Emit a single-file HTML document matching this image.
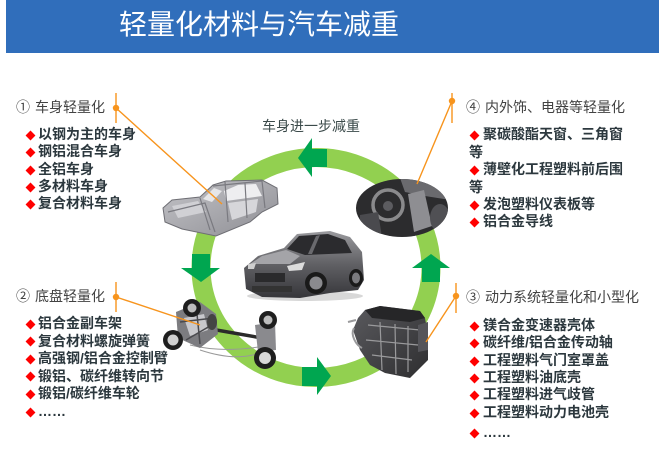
<!DOCTYPE html>
<html><head><meta charset="utf-8"><style>
body{margin:0;width:659px;height:449px;overflow:hidden;background:#fff;position:relative;font-family:"Liberation Sans","Noto Sans CJK SC",sans-serif;}
.a{position:absolute;white-space:nowrap;}
.h{font-size:14px;line-height:18px;color:#424242;}
.b{font-size:14px;line-height:18px;color:#2c383e;font-weight:bold;}
.d{position:absolute;width:7px;height:7px;background:#f00;transform:rotate(45deg);}
svg{position:absolute;left:0;top:0;}
</style></head><body>
<div style="position:absolute;left:6px;top:0;width:653px;height:53px;background:#306ebb"></div>
<div class="a" style="left:119px;top:9px;font-size:28px;line-height:32px;color:#fff">轻量化材料与汽车减重</div>

<svg width="659" height="449" viewBox="0 0 659 449">
<defs>
<linearGradient id="cg" x1="0" y1="0" x2="0" y2="1"><stop offset="0" stop-color="#9a9a9e"/><stop offset="0.5" stop-color="#606064"/><stop offset="1" stop-color="#36363a"/></linearGradient>
<linearGradient id="bg" x1="0" y1="0" x2="1" y2="1"><stop offset="0" stop-color="#c4c4c8"/><stop offset="1" stop-color="#8e8e94"/></linearGradient>
<linearGradient id="eg" x1="0" y1="0" x2="1" y2="1"><stop offset="0" stop-color="#5a5a5e"/><stop offset="1" stop-color="#2e2e30"/></linearGradient>
<clipPath id="ie"><ellipse cx="402" cy="208" rx="46" ry="29"/></clipPath>
</defs>
<!-- ring -->
<ellipse cx="316" cy="267.5" rx="115" ry="110" stroke="#92d050" stroke-width="19" fill="none"/>
<!-- arrows -->
<path d="M327,149 L312,149 L312,138 L298,158 L312,177 L312,167 L327,167 Z" fill="#00a650"/>
<path d="M192,254 L210,254 L210,268 L220,268 L201,282 L181,268 L192,268 Z" fill="#00a650"/>
<path d="M302,367 L317,367 L317,357 L331,376 L317,395 L317,386 L302,386 Z" fill="#00a650"/>
<path d="M422,282 L422,268 L412,268 L431,254 L450,268 L440,268 L440,282 Z" fill="#00a650"/>

<!-- car body frame -->
<g>
<polygon points="163,208 172,200 200,197 213,185 226,181 262,180 277,188 278,204 262,212 250,222 216,236 182,229 165,222" fill="url(#bg)" stroke="#6e6e74" stroke-width="1"/>
<polygon points="203,199 214,188 222,191 212,202" fill="#e6e6e8"/>
<polygon points="224,191 238,185 256,184 262,196 226,201" fill="#eeeef0"/>
<polygon points="228,203 258,199 256,212 232,220" fill="#d6d6da"/>
<polygon points="172,206 198,201 206,212 178,218" fill="#d0d0d4"/>
<path d="M168,212 L205,203 L215,232 M200,198 L210,230 M225,182 L228,222 M245,183 L247,218 M262,181 L265,208 M213,186 L262,181" stroke="#7a7a80" stroke-width="1.2" fill="none"/>
</g>

<!-- interior -->
<g>
<ellipse cx="402" cy="208" rx="46" ry="29" fill="#2c2c2e"/>
<g clip-path="url(#ie)">
<polygon points="400,178 450,178 450,200 425,196 405,192" fill="#6a6a6e"/>
<polygon points="408,194 424,190 432,226 414,232" fill="#8e8e92"/>
<ellipse cx="440" cy="218" rx="10" ry="14" fill="#505054"/>
<circle cx="388" cy="205" r="15" stroke="#8a8a8c" stroke-width="3.5" fill="none"/>
<circle cx="388" cy="206" r="5" fill="#5c5c60"/>
<polygon points="360,215 378,212 382,237 360,237" fill="#4a4a4e"/>
</g>
</g>

<!-- center car -->
<g>
<ellipse cx="305" cy="296" rx="58" ry="5" fill="#d8d8d8"/>
<polygon points="244,268 258,256 284,248 297,234 330,231 350,237 362,252 364,280 358,290 330,293 300,298 262,297 246,289" fill="url(#cg)"/>
<polygon points="287,249 299,236 328,234 345,240 352,253 305,255" fill="#2b2b2e"/>
<polygon points="316,236 320,235 312,254 308,254" fill="#6a6a6e"/>
<polygon points="250,264 262,256 286,250 300,256 290,264" fill="#a4a4a8"/>
<rect x="255" y="273" width="30" height="9" fill="#2a2a2c"/>
<polygon points="287,266 305,262 302,270 289,271" fill="#dcdcdc"/>
<polygon points="248,264 256,263 254,269 248,269" fill="#cfcfcf"/>
<rect x="252" y="286" width="40" height="6" fill="#333"/>
<circle cx="316" cy="283" r="11" fill="#1a1a1a"/>
<circle cx="316" cy="283" r="6.5" fill="#8a8a8e"/>
<ellipse cx="356" cy="278" rx="7" ry="9" fill="#1a1a1a"/>
<ellipse cx="356" cy="278" rx="4" ry="5.5" fill="#7a7a7e"/>
</g>

<!-- chassis -->
<g>
<path d="M205,328 L262,338" stroke="#2a2a2a" stroke-width="3.5"/>
<path d="M268,320 L265,358" stroke="#555" stroke-width="5"/>
<path d="M190,345 C210,350 235,352 270,345 M200,350 C230,360 250,358 268,350" stroke="#999" stroke-width="1" fill="none"/>
<polygon points="176,312 200,302 216,314 218,334 200,348 178,338" fill="#7c7c80"/>
<polygon points="184,318 204,314 208,330 190,336" fill="#c8c8cc"/>
<path d="M180,322 L214,318 M186,340 L210,326 M196,304 L200,344" stroke="#4a4a4e" stroke-width="1.5"/>
<ellipse cx="212" cy="322" rx="5" ry="8" fill="#444"/>
<polygon points="255,325 275,322 276,350 258,352" fill="#8a8a8e"/>
<circle cx="173" cy="340" r="10" fill="#1e1e1e"/><circle cx="173" cy="340" r="5.5" fill="#d0d0d0"/>
<circle cx="192" cy="308" r="9" fill="#1e1e1e"/><circle cx="192" cy="308" r="4.5" fill="#bdbdbd"/>
<circle cx="268" cy="320" r="9" fill="#1e1e1e"/><circle cx="268" cy="320" r="4.5" fill="#bdbdbd"/>
<circle cx="265" cy="358" r="11" fill="#1e1e1e"/><circle cx="265" cy="358" r="6" fill="#d8d8d8"/>
</g>

<!-- engine -->
<g>
<polygon points="365,310 380,306 420,311 425,318 428,335 428,360 410,378 385,373 370,365 360,350 353,330 358,318" fill="url(#eg)"/>
<polygon points="365,310 380,306 420,311 425,318 410,322 372,318" fill="#262628"/>
<path d="M368,325 L420,330 M366,340 L418,345 M372,355 L412,360 M380,322 L382,370 M395,324 L396,374 M408,326 L408,372" stroke="#9a9a9c" stroke-width="1.2"/>
<path d="M354,328 C350,335 356,345 362,348 M356,320 L348,322" stroke="#9a9a9c" stroke-width="2" fill="none"/>
<polygon points="418,325 428,322 428,350 418,352" fill="#55555a"/>
</g>

<!-- orange leader lines -->
<g stroke="#f7941d" stroke-width="1.4" fill="none">
<path d="M116,93 L116,123 M116,108 L222,204"/>
<path d="M116,282 L116,312 M116,297 L200,325"/>
<path d="M452,93 L452,123 M452,101 L417,184"/>
<path d="M456,283 L456,313 M456,296 L426,342"/>
</g>
<g fill="#f7941d">
<circle cx="116" cy="108" r="3.2"/><circle cx="116" cy="297" r="3.2"/>
<circle cx="452" cy="101" r="3.2"/><circle cx="456" cy="296" r="3.2"/>
</g>
</svg>

<div class="a" style="left:262px;top:117px;font-size:14px;line-height:18px;color:#3b4a4a">车身进一步减重</div>

<!-- group 1 -->
<div class="a h" style="left:16px;top:98px">①</div>
<div class="a h" style="left:35px;top:98px">车身轻量化</div>
<div class="d" style="left:27px;top:131.5px"></div><div class="a b" style="left:38px;top:125px">以钢为主的车身</div>
<div class="d" style="left:27px;top:148.5px"></div><div class="a b" style="left:38px;top:142px">钢铝混合车身</div>
<div class="d" style="left:27px;top:166.5px"></div><div class="a b" style="left:38px;top:160px">全铝车身</div>
<div class="d" style="left:27px;top:183.5px"></div><div class="a b" style="left:38px;top:177px">多材料车身</div>
<div class="d" style="left:27px;top:200.5px"></div><div class="a b" style="left:38px;top:194px">复合材料车身</div>

<!-- group 2 -->
<div class="a h" style="left:16px;top:287px">②</div>
<div class="a h" style="left:35px;top:287px">底盘轻量化</div>
<div class="d" style="left:27px;top:320.5px"></div><div class="a b" style="left:38px;top:314px">铝合金副车架</div>
<div class="d" style="left:27px;top:338px"></div><div class="a b" style="left:38px;top:331.5px">复合材料螺旋弹簧</div>
<div class="d" style="left:27px;top:355.5px"></div><div class="a b" style="left:38px;top:349px">高强钢/铝合金控制臂</div>
<div class="d" style="left:27px;top:373px"></div><div class="a b" style="left:38px;top:366.5px">锻铝、碳纤维转向节</div>
<div class="d" style="left:27px;top:390.5px"></div><div class="a b" style="left:38px;top:384px">锻铝/碳纤维车轮</div>
<div class="d" style="left:27px;top:408.5px"></div><div class="a b" style="left:38px;top:402px">……</div>

<!-- group 4 -->
<div class="a h" style="left:466px;top:98px">④</div>
<div class="a h" style="left:485px;top:98px">内外饰、电器等轻量化</div>
<div class="d" style="left:471px;top:131.5px"></div><div class="a b" style="left:483px;top:125px">聚碳酸酯天窗、三角窗</div>
<div class="a b" style="left:469px;top:143px">等</div>
<div class="d" style="left:471px;top:166.5px"></div><div class="a b" style="left:483px;top:160px">薄壁化工程塑料前后围</div>
<div class="a b" style="left:469px;top:178px">等</div>
<div class="d" style="left:471px;top:201.5px"></div><div class="a b" style="left:483px;top:195px">发泡塑料仪表板等</div>
<div class="d" style="left:471px;top:218.5px"></div><div class="a b" style="left:483px;top:212px">铝合金导线</div>

<!-- group 3 -->
<div class="a h" style="left:466px;top:288px">③</div>
<div class="a h" style="left:485px;top:288px">动力系统轻量化和小型化</div>
<div class="d" style="left:471px;top:322.5px"></div><div class="a b" style="left:483px;top:316px">镁合金变速器壳体</div>
<div class="d" style="left:471px;top:339.5px"></div><div class="a b" style="left:483px;top:333px">碳纤维/铝合金传动轴</div>
<div class="d" style="left:471px;top:357.5px"></div><div class="a b" style="left:483px;top:351px">工程塑料气门室罩盖</div>
<div class="d" style="left:471px;top:374.5px"></div><div class="a b" style="left:483px;top:368px">工程塑料油底壳</div>
<div class="d" style="left:471px;top:391.5px"></div><div class="a b" style="left:483px;top:385px">工程塑料进气歧管</div>
<div class="d" style="left:471px;top:409.5px"></div><div class="a b" style="left:483px;top:403px">工程塑料动力电池壳</div>
<div class="d" style="left:471px;top:429.5px"></div><div class="a b" style="left:483px;top:423px">……</div>
</body></html>
